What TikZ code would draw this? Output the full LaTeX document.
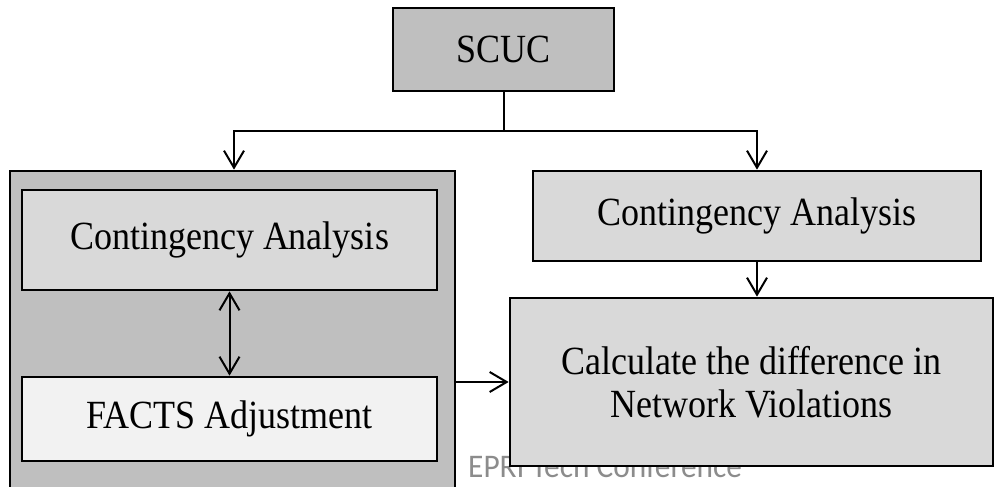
\documentclass[tikz,border=0pt]{standalone}
\usepackage{fontspec}
\setmainfont{Liberation Serif}[FakeStretch=0.9]
\newfontfamily\footfont{Carlito}[FakeStretch=0.95]
\usetikzlibrary{arrows.meta}
\definecolor{gA}{HTML}{BFBFBF}
\definecolor{gB}{HTML}{D9D9D9}
\definecolor{gC}{HTML}{F2F2F2}
\definecolor{gF}{HTML}{8C8C8C}
\begin{document}
\begin{tikzpicture}[x=1pt,y=-1pt,
  box/.style={draw=black,line width=2.7pt,inner sep=0pt,align=center,
    font=\fontsize{40}{43}\selectfont},
  arr/.style={line width=2pt,-{Straight Barb[length=17pt,width=20pt]}},
  darr/.style={line width=2pt,{Straight Barb[length=17pt,width=20pt]}-{Straight Barb[length=17pt,width=20pt]}},
  ln/.style={line width=2pt}]
\useasboundingbox (0,0) rectangle (994,487);
\clip (0,0) rectangle (994,487);
\node[anchor=base west,text=gF,font=\footfont\fontsize{33}{36}\selectfont,inner sep=0pt] (foot) at (468,477) {EPRI Tech Conference};
\node[box,fill=gA,minimum width=221pt,minimum height=83pt] (scuc) at (503.5,49.5) {SCUC};
\node[box,fill=gA,minimum width=445pt,minimum height=329pt] (outer) at (232.5,335.5) {};
\node[box,fill=gB,minimum width=415pt,minimum height=100pt] (ica) at (229.5,240) {Contingency Analysis};
\node[box,fill=gC,minimum width=415pt,minimum height=84pt] (facts) at (229.5,419) {FACTS Adjustment};
\node[box,fill=gB,minimum width=448pt,minimum height=90pt] (rca) at (757,216) {Contingency Analysis};
\node[box,fill=gB,minimum width=483pt,minimum height=168pt] (calc) at (751.5,382) {Calculate the difference in\\Network Violations};
\coordinate (j) at (503.5,131);
\coordinate (jl) at (234,131);
\draw[ln] (scuc.south) -- (j);
\draw[arr] (j) -- (jl) -- (jl |- outer.north);
\draw[arr] (j) -| (rca.north);
\draw[arr] (rca.south) -- (rca.south |- calc.north);
\draw[darr] (ica.south) -- (facts.north);
\draw[arr] (outer.east |- calc.west) -- (calc.west);
\end{tikzpicture}
\end{document}
